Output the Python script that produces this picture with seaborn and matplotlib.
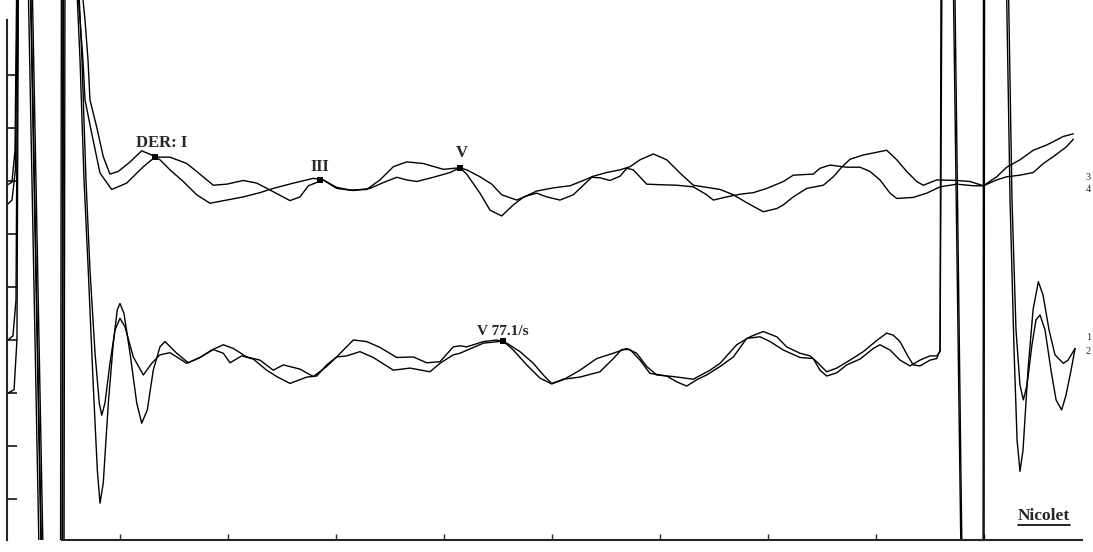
import matplotlib
matplotlib.use("Agg")
import matplotlib.pyplot as plt
import seaborn as sns
from matplotlib.lines import Line2D
from matplotlib.transforms import IdentityTransform

sns.set_style("ticks")
plt.rcParams['font.family'] = ['Liberation Serif', 'DejaVu Serif']

# latency (ms) / amplitude (div); values above ~10.4 or below 0.2 are off-scale
a_t = [-0.046, 0.0, 0.028, 0.046, 0.102, 0.148, 0.259, 0.370, 0.463, 0.472, 0.556, 0.630, 0.676, 0.704, 0.722, 0.784, 0.845, 0.907, 0.984, 1.093,
       1.201, 1.294, 1.370, 1.463, 1.586, 1.710, 1.833, 1.988, 2.142, 2.296, 2.419, 2.605, 2.790, 2.882, 3.006, 3.130, 3.284, 3.407, 3.531, 3.655,
       3.808, 3.994, 4.148, 4.210, 4.333, 4.426, 4.534, 4.642, 4.734, 4.858, 5.012, 5.167, 5.290, 5.382, 5.506, 5.630, 5.722, 5.815, 5.938, 6.062,
       6.185, 6.308, 6.432, 6.556, 6.679, 6.803, 6.956, 7.081, 7.142, 7.234, 7.358, 7.512, 7.605, 7.682, 7.759, 7.882, 8.099, 8.192, 8.284, 8.377,
       8.438, 8.562, 8.747, 8.870, 8.994, 9.118, 9.210, 9.333, 9.456, 9.549, 9.642, 9.766, 9.827]
a_v = [6.92, 6.98, 7.58, 11.17, 12.68, 10.98, -0.91, -2.79, -0.91, 11.17, 12.30, 10.98, 10.04, 9.28, 8.53, 8.02, 7.46, 7.13, 7.18, 7.36,
       7.57, 7.49, 7.40, 7.21, 6.99, 6.74, 6.58, 6.64, 6.70, 6.78, 6.86, 6.96, 7.05, 7.02, 6.88, 6.83, 6.84, 7.02, 7.27, 7.36,
       7.33, 7.22, 7.25, 7.13, 6.77, 6.45, 6.34, 6.55, 6.69, 6.81, 6.87, 6.91, 7.01, 7.09, 7.16, 7.21, 7.27, 7.40, 7.51, 7.40,
       7.15, 6.92, 6.88, 6.84, 6.74, 6.59, 6.42, 6.48, 6.55, 6.70, 6.86, 6.92, 7.08, 7.26, 7.41, 7.49, 7.58, 7.40, 7.18, 6.99,
       6.92, 7.02, 7.01, 6.99, 6.91, 7.02, 7.08, 7.11, 7.16, 7.33, 7.46, 7.65, 7.79]

b_t = [-0.046, 0.0, 0.032, 0.051, 0.106, 0.167, 0.278, 0.375, 0.481, 0.491, 0.556, 0.593, 0.630, 0.657, 0.676, 0.738, 0.815, 0.923, 1.062, 1.216,
       1.324, 1.463, 1.618, 1.710, 1.864, 1.988, 2.142, 2.266, 2.389, 2.574, 2.667, 2.744, 2.882, 3.006, 3.160, 3.315, 3.438, 3.562, 3.655, 3.747,
       3.901, 4.056, 4.148, 4.210, 4.333, 4.442, 4.534, 4.673, 4.766, 4.858, 4.951, 5.074, 5.197, 5.290, 5.368, 5.444, 5.537, 5.630, 5.692, 5.753,
       5.877, 6.000, 6.155, 6.308, 6.432, 6.494, 6.618, 6.741, 6.864, 6.988, 7.142, 7.234, 7.419, 7.481, 7.574, 7.729, 7.852, 7.944, 8.037, 8.130,
       8.192, 8.345, 8.469, 8.593, 8.747, 8.901, 8.994, 9.118, 9.210, 9.333, 9.456, 9.581, 9.734, 9.827]
b_v = [6.55, 6.64, 7.21, 11.17, 12.68, 10.98, -0.91, -2.79, -0.91, 11.17, 12.30, 10.98, 10.04, 9.28, 8.53, 7.90, 7.15, 6.84, 6.96, 7.27,
       7.45, 7.45, 7.33, 7.18, 6.92, 6.94, 7.01, 6.96, 6.83, 6.63, 6.70, 6.91, 7.02, 6.86, 6.82, 6.86, 6.97, 7.07, 7.02, 6.99,
       7.07, 7.16, 7.25, 7.21, 7.08, 6.94, 6.74, 6.64, 6.72, 6.77, 6.70, 6.64, 6.74, 6.92, 7.07, 7.06, 7.01, 7.09, 7.24, 7.21,
       6.94, 6.93, 6.92, 6.89, 6.74, 6.64, 6.70, 6.75, 6.78, 6.86, 6.99, 7.11, 7.13, 7.24, 7.30, 7.26, 7.26, 7.18, 7.02, 6.77,
       6.67, 6.69, 6.77, 6.89, 6.94, 6.91, 6.91, 7.08, 7.26, 7.40, 7.58, 7.68, 7.84, 7.89]

c_t = [-0.037, 0.019, 0.046, 0.060, 0.111, 0.171, 0.282, 0.380, 0.468, 0.477, 0.537, 0.593, 0.630, 0.667, 0.706, 0.753, 0.790, 0.815, 0.845, 0.892,
       0.938, 0.975, 1.000, 1.037, 1.093, 1.155, 1.201, 1.253, 1.308, 1.370, 1.417, 1.525, 1.632, 1.741, 1.849, 1.956, 2.049, 2.173, 2.296, 2.419,
       2.512, 2.667, 2.790, 2.914, 3.006, 3.160, 3.284, 3.407, 3.562, 3.716, 3.840, 3.963, 4.086, 4.148, 4.210, 4.364, 4.488, 4.581, 4.704, 4.827,
       4.919, 4.997, 5.105, 5.259, 5.414, 5.568, 5.692, 5.784, 5.877, 5.969, 6.123, 6.308, 6.463, 6.556, 6.710, 6.833, 6.956, 7.081, 7.173, 7.296,
       7.389, 7.466, 7.543, 7.636, 7.759, 7.882, 8.006, 8.099, 8.160, 8.222, 8.299, 8.345, 8.407, 8.500, 8.562, 8.593, 8.602, 8.657, 8.713, 8.792,
       8.889, 8.991, 8.995, 9.102, 9.204, 9.241, 9.278, 9.306, 9.333, 9.361, 9.407, 9.454, 9.503, 9.546, 9.602, 9.657, 9.734, 9.778, 9.843]
c_v = [3.00, 3.06, 4.00, 11.17, 12.68, 10.98, -0.91, -2.79, -0.91, 11.17, 12.30, 10.98, 9.28, 7.02, 5.32, 3.12, 1.55, 0.92, 1.30, 2.81,
       3.94, 4.57, 4.69, 4.50, 3.75, 2.81, 2.43, 2.68, 3.43, 3.87, 3.97, 3.75, 3.57, 3.67, 3.81, 3.91, 3.84, 3.68, 3.62, 3.43,
       3.53, 3.45, 3.31, 3.50, 3.68, 4.00, 3.97, 3.86, 3.67, 3.68, 3.57, 3.59, 3.87, 3.89, 3.87, 3.97, 4.00, 3.94, 3.78, 3.56,
       3.34, 3.18, 3.25, 3.43, 3.65, 3.75, 3.84, 3.75, 3.50, 3.34, 3.31, 3.26, 3.43, 3.56, 3.91, 4.06, 4.16, 4.06, 3.87, 3.75,
       3.70, 3.56, 3.40, 3.47, 3.62, 3.78, 3.99, 4.13, 4.09, 3.97, 3.68, 3.53, 3.51, 3.62, 3.65, 3.81, 11.17, 12.68, 11.17, -0.91,
       -2.79, -0.91, 11.17, 12.68, 11.17, 6.64, 3.81, 2.11, 1.52, 1.92, 3.43, 4.57, 5.10, 4.85, 4.19, 3.72, 3.56, 3.62, 3.84]

d_t = [-0.037, 0.009, 0.037, 0.056, 0.111, 0.185, 0.296, 0.384, 0.449, 0.458, 0.537, 0.611, 0.648, 0.685, 0.722, 0.769, 0.808, 0.831, 0.861, 0.907,
       0.954, 1.000, 1.046, 1.123, 1.216, 1.294, 1.370, 1.463, 1.618, 1.741, 1.864, 1.956, 2.019, 2.127, 2.234, 2.358, 2.451, 2.574, 2.729, 2.821,
       2.914, 3.006, 3.099, 3.222, 3.345, 3.531, 3.685, 3.870, 3.963, 4.086, 4.148, 4.364, 4.549, 4.642, 4.766, 4.889, 4.997, 5.105, 5.259, 5.444,
       5.568, 5.645, 5.722, 5.815, 5.907, 6.062, 6.155, 6.247, 6.340, 6.432, 6.556, 6.679, 6.803, 6.926, 7.019, 7.142, 7.296, 7.419, 7.481, 7.543,
       7.636, 7.729, 7.852, 7.975, 8.037, 8.130, 8.222, 8.315, 8.407, 8.500, 8.562, 8.593, 8.611, 8.667, 8.727, 8.801, 8.894, 9.000, 9.005, 9.111,
       9.222, 9.259, 9.296, 9.333, 9.364, 9.398, 9.444, 9.481, 9.519, 9.565, 9.620, 9.667, 9.719, 9.759, 9.806, 9.843]
d_v = [4.00, 4.08, 4.75, 11.17, 12.68, 10.98, -0.91, -2.79, -0.91, 11.17, 12.30, 10.98, 9.28, 7.02, 5.32, 3.75, 2.81, 2.58, 2.81, 3.56,
       4.19, 4.41, 4.25, 3.68, 3.34, 3.56, 3.72, 3.76, 3.56, 3.67, 3.82, 3.75, 3.57, 3.70, 3.64, 3.43, 3.31, 3.18, 3.30, 3.32,
       3.53, 3.68, 3.70, 3.78, 3.67, 3.43, 3.47, 3.40, 3.56, 3.72, 3.75, 3.94, 3.98, 3.81, 3.53, 3.28, 3.17, 3.26, 3.30, 3.40,
       3.65, 3.82, 3.82, 3.62, 3.37, 3.32, 3.21, 3.13, 3.25, 3.34, 3.50, 3.68, 4.03, 4.06, 3.97, 3.81, 3.67, 3.65, 3.43, 3.32,
       3.38, 3.53, 3.64, 3.84, 3.91, 3.81, 3.62, 3.51, 3.62, 3.70, 3.70, 3.78, 11.17, 12.68, 11.17, -0.91, -2.79, -0.91, 11.17, 12.68,
       11.17, 6.64, 4.19, 3.15, 2.87, 3.15, 3.91, 4.38, 4.47, 4.19, 3.43, 2.87, 2.68, 2.96, 3.43, 3.84]

# peak markers (I, III, V on the upper pair; V on the lower pair)
peak_t = [1.324, 2.852, 4.148, 4.546]
peak_v = [7.45, 7.02, 7.25, 3.98]

fig = plt.figure(figsize=(10.93, 5.52), dpi=100)
ax = fig.add_axes([0, 12 / 552, 1, 540 / 552])

for t, v in [(a_t, a_v), (b_t, b_v), (c_t, c_v), (d_t, d_v)]:
    sns.lineplot(x=t, y=v, sort=False, estimator=None, color="black", linewidth=1.0,
                 solid_joinstyle="round", solid_capstyle="round", ax=ax)

sns.scatterplot(x=peak_t, y=peak_v, marker="s", s=18, color="black", linewidth=0, ax=ax, zorder=5)

ax.text(1.384, 7.64, "DER: I", ha="center", va="baseline", fontsize=12, fontweight="bold")
ax.text(2.852, 7.19, "III", ha="center", va="baseline", fontsize=11.5, fontweight="bold")
ax.text(4.162, 7.45, "V", ha="center", va="baseline", fontsize=12, fontweight="bold")
ax.text(4.306, 4.09, "V 77.1/s", ha="left", va="baseline", fontsize=11, fontweight="bold")

ax.set_xlim(-0.111, 10.009)
ax.set_ylim(0.226, 10.415)
ax.set_xticks(range(1, 10))
ax.set_yticks(range(1, 10))
ax.tick_params(labelleft=False, labelbottom=False, direction="in")
ax.tick_params(axis="y", length=7, width=1.3)
ax.tick_params(axis="x", length=4, width=1.0)
for side in ["top", "right"]:
    ax.spines[side].set_visible(False)
ax.spines["left"].set_position(("data", -0.046))
ax.spines["left"].set_bounds(0.226, 10.04)
ax.spines["left"].set_linewidth(1.5)
ax.spines["bottom"].set_bounds(0.463, 9.907)
ax.spines["bottom"].set_linewidth(1.5)
ax.set_xlabel("")
ax.set_ylabel("")

# channel numbers clipped at the right edge
for lab, yy in [("3", 1 - 178 / 552), ("4", 1 - 190 / 552), ("1", 1 - 338 / 552), ("2", 1 - 352 / 552)]:
    fig.text(1086 / 1093, yy, lab, fontsize=7.5, va="center", ha="left")

nic = fig.text(0.955, 1 - 520 / 552, "Nicolet", ha="center", va="baseline", fontsize=12.5, fontweight="bold")
fig.canvas.draw()
bb = nic.get_window_extent()
fig.add_artist(Line2D([bb.x0, bb.x1], [bb.y0 - 1, bb.y0 - 1], transform=IdentityTransform(), color="black", linewidth=1.2))

fig.savefig("out.png", dpi=100)
